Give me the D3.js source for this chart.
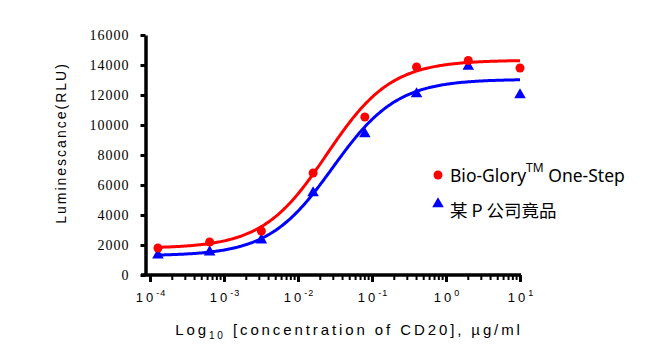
<!DOCTYPE html>
<html>
<head>
<meta charset="utf-8">
<script src="https://cdn.jsdelivr.net/npm/d3@7"></script>
<style>
  body { margin: 0; background: #fff; }
  svg { display: block; }
  .ytick text { font-family: "Liberation Serif", "Times New Roman", serif; font-size: 14px; letter-spacing: 1px; }
</style>
</head>
<body>
<svg width="664" height="345"></svg>
<script>
// concentrations of CD20, µg/ml (5-fold dilutions)
const conc = [0.000128, 0.00064, 0.0032, 0.016, 0.08, 0.4, 2, 10];
const bioGlory = [1800, 2200, 2930, 6800, 10530, 13870, 14300, 13800];
const competitor = [1330, 1530, 2330, 5470, 9400, 12070, 13900, 12000];

// 4PL fit parameters: bottom, top, logEC50, hill
const fitBioGlory = [1780, 14320, -1.61, 1.0];
const fitCompetitor = [1280, 13050, -1.53, 1.0];

const yTicks = [0, 2000, 4000, 6000, 8000, 10000, 12000, 14000, 16000];
const xDecades = [-4, -3, -2, -1, 0, 1];
const seriesNames = ["Bio-Glory", "某 P 公司竟品"];

const svg = d3.select("svg");
const x = d3.scaleLog().domain([1e-4, 10]).range([150, 520]);
const y = d3.scaleLinear().domain([0, 16000]).range([275, 35]);

function fourPL(p, c) {
    return p[0] + (p[1] - p[0]) / (1 + Math.pow(10, (p[2] - Math.log10(c)) * p[3]));
}

// y axis
const yAxis = svg.append("g")
    .attr("class", "ytick")
    .attr("transform", "translate(145.5,0)")
    .call(d3.axisLeft(y).tickValues(yTicks).tickFormat(d3.format("d"))
        .tickSize(5).tickSizeOuter(0).tickPadding(11));
yAxis.attr("font-family", null).attr("font-size", null);
yAxis.select(".domain").attr("stroke-width", 3.5);
yAxis.selectAll(".tick line").attr("stroke-width", 3);
yAxis.selectAll(".tick text").attr("fill", "#000");

// x axis
const xAxis = svg.append("g")
    .attr("transform", "translate(0,275)")
    .call(d3.axisBottom(x).tickValues(xDecades.map(d => Math.pow(10, d))).tickSize(7).tickSizeOuter(0).tickFormat(""));
xAxis.select(".domain").attr("stroke-width", 3.5).attr("d", "M141,0H521");
xAxis.selectAll(".tick line").attr("stroke-width", 3);

// minor ticks
const minor = [];
xDecades.slice(0, -1).forEach(d => {
    for (let k = 2; k <= 9; k++) minor.push(k * Math.pow(10, d));
});
svg.append("g").selectAll("line")
    .data(minor)
    .enter().append("line")
        .attr("x1", d => x(d)).attr("x2", d => x(d))
        .attr("y1", 275).attr("y2", 280)
        .attr("stroke", "#000")
        .attr("stroke-width", 2);

// decade labels 10^n
const xl = svg.append("g")
    .style("font-family", "'Liberation Sans', Arial, sans-serif")
    .attr("fill", "#000");
xDecades.forEach(d => {
    const t = xl.append("text")
        .attr("x", x(Math.pow(10, d)) + 1)
        .attr("y", 302)
        .attr("text-anchor", "middle");
    t.append("tspan").style("font-size", "13px").style("letter-spacing", "3px").text("10");
    t.append("tspan").style("font-size", "9px").style("letter-spacing", "1px").attr("dy", -6).text(d);
});

// axis titles
const xt = svg.append("text")
    .attr("x", 349)
    .attr("y", 335)
    .attr("text-anchor", "middle")
    .style("font-family", "'Liberation Sans', Arial, sans-serif")
    .style("font-size", "15px")
    .style("letter-spacing", "2.9px")
    .attr("fill", "#000");
xt.append("tspan").text("Log");
xt.append("tspan").style("font-size", "10px").attr("dy", 4).text("10");
xt.append("tspan").attr("dy", -4).text(" [concentration of CD20], µg/ml");

svg.append("text")
    .attr("transform", "translate(66,143) rotate(-90)")
    .attr("text-anchor", "middle")
    .style("font-family", "'Liberation Sans', Arial, sans-serif")
    .style("font-size", "14px")
    .style("letter-spacing", "2px")
    .attr("fill", "#000")
    .text("Luminescance(RLU)");

// fitted curves
const grid = d3.range(0, 301).map(i => Math.pow(10, Math.log10(conc[0]) + i * (Math.log10(10) - Math.log10(conc[0])) / 300));
const line = p => d3.line().x(c => x(c)).y(c => y(fourPL(p, c)))(grid);

svg.append("path").attr("d", line(fitCompetitor))
    .attr("fill", "none").attr("stroke", "#0000ff").attr("stroke-width", 3);
svg.append("path").attr("d", line(fitBioGlory))
    .attr("fill", "none").attr("stroke", "#ff0000").attr("stroke-width", 3);

// data points
const tri = d3.symbol().type(d3.symbolTriangle).size(58);
svg.append("g").selectAll("path")
    .data(conc)
    .enter().append("path")
        .attr("d", tri)
        .attr("transform", (c, i) => `translate(${x(c)},${y(competitor[i])})`)
        .attr("fill", "#0000ff");

svg.append("g").selectAll("circle")
    .data(conc)
    .enter().append("circle")
        .attr("cx", c => x(c))
        .attr("cy", (c, i) => y(bioGlory[i]))
        .attr("r", 4.5)
        .attr("fill", "#ff0000");

// legend
const lg = svg.append("g")
    .style("font-family", "'Noto Sans', 'Noto Sans CJK SC', sans-serif")
    .attr("fill", "#000");
lg.append("circle").attr("cx", 438).attr("cy", 175).attr("r", 4.5).attr("fill", "#ff0000");
const l1 = lg.append("text").attr("x", 450).attr("y", 182).style("font-size", "17.5px");
l1.append("tspan").text(seriesNames[0]);
l1.append("tspan").style("font-size", "12px").attr("dy", -10).text("TM");
l1.append("tspan").attr("dy", 10).text(" One-Step");

lg.append("path").attr("d", tri).attr("transform", "translate(438,204)").attr("fill", "#0000ff");
lg.append("text").attr("x", 450).attr("y", 217).style("font-size", "17.5px")
    .style("font-family", "'Noto Sans CJK SC', sans-serif")
    .text(seriesNames[1]);
</script>
</body>
</html>
